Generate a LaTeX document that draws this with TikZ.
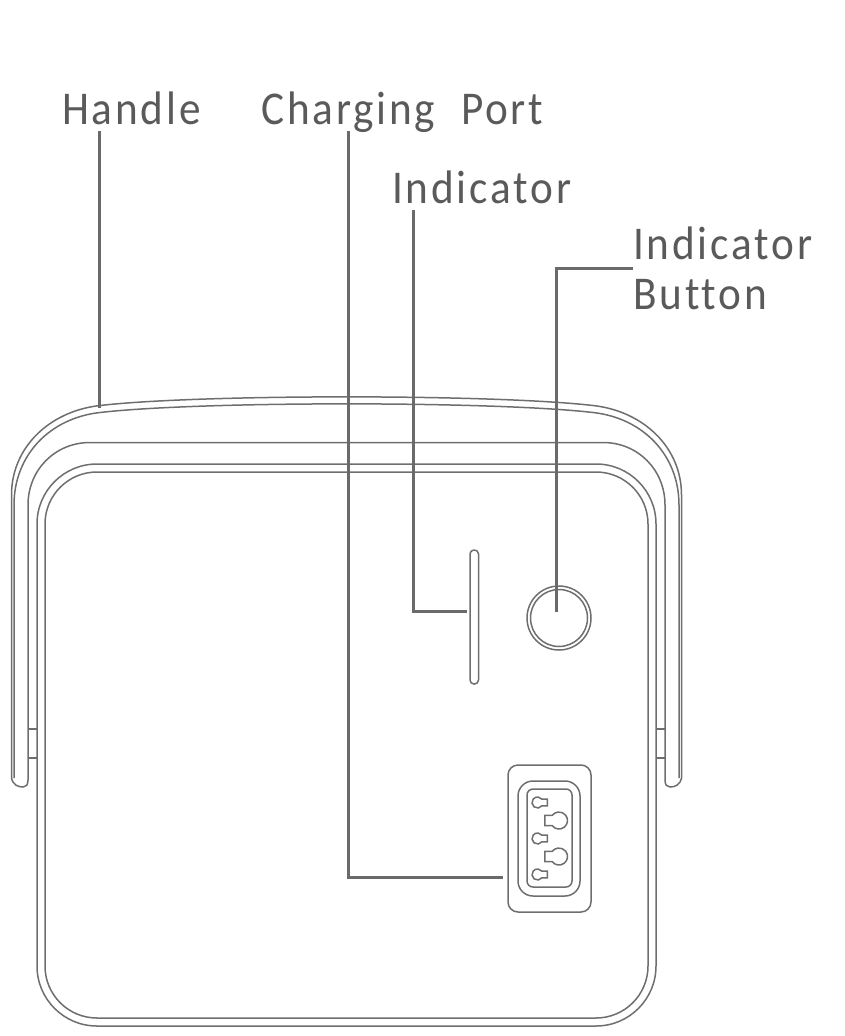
\documentclass[tikz,border=0pt]{standalone}
\usepackage{fontspec}
\setmainfont[LetterSpace=6,FakeStretch=0.92,Ligatures=NoCommon,WordSpace=2.05]{Carlito}
\definecolor{linea}{HTML}{6E6E6E}
\definecolor{guia}{HTML}{6A6A6A}
\definecolor{texto}{HTML}{5A5A5A}
\tikzset{
	contorno/.style={draw=linea, line width=1.5pt},
	guide/.style={draw=guia, line width=3pt},
	etiqueta/.style={inner sep=0pt, anchor=base west, text=texto, font=\fontsize{47}{50}\selectfont, text depth=7pt},
}
\newcommand{\clavija}[4]{% centro, radio, largo, lado
	\draw[contorno, shift={(#1)}, xscale=#4] (-38:#2) -- ++(#3,0) -- ++(0,{2*#2*sin(38)}) -- ++(-#3,0) arc (38:322:#2) -- cycle;
}
\begin{document}
\begin{tikzpicture}[x=1pt,y=-1pt]
			\useasboundingbox (0,0) rectangle (844,1036);
			
			% Etiquetas
			\node[etiqueta] (handlelabel) at (62,124) {Handle};
			\node[etiqueta] (portlabel) at (261,124) {Charging Port};
			\node[etiqueta] (indicatorlabel) at (392,203) {Indicator};
			\node[inner sep=0pt, anchor=west, text=texto, align=left, font=\fontsize{47}{50}\selectfont] (buttonlabel) at (633,268) {Indicator\\Button};
			
			% Cuerpo
			\draw[contorno, rounded corners=60pt] (37,464) rectangle (656,1026);
			\draw[contorno, rounded corners=52pt] (45,472) rectangle (648,1018);
			
			% Asa
			\draw[contorno] (11.5,778) -- (11.5,495) .. controls (11.5,447) and (50,411) .. (100,405.5) .. controls (200,394) and (493,394) .. (593,405.5) .. controls (643,411) and (681.5,447) .. (681.5,495) -- (681.5,778);
			\draw[contorno] (14,778) -- (14,505) .. controls (14,455) and (50,418) .. (100,412.5) .. controls (200,401) and (493,401) .. (593,412.5) .. controls (643,418) and (679,455) .. (679,505) -- (679,778);
			\draw[contorno] (28,780) -- (28,505) .. controls (28,470) and (55,442.5) .. (90,442.5) -- (603,442.5) .. controls (638,442.5) and (665,470) .. (665,505) -- (665,780);
			
			% Extremos del asa
			\draw[contorno] (11.5,778) .. controls (13,785) and (18,787) .. (23,787) .. controls (26,787) and (28,785) .. (28,780);
			\draw[contorno] (681.5,778) .. controls (680,785) and (675,787) .. (670,787) .. controls (667,787) and (665,785) .. (665,780);
			
			% Uniones
			\draw[contorno] (28,729) -- (37,729);
			\draw[contorno] (28,758) -- (37,758);
			\draw[contorno] (656,729) -- (665,729);
			\draw[contorno] (656,758) -- (665,758);
			
			% Indicador
			\draw[contorno, rounded corners=4pt] (470,550) rectangle (478.5,684);
			\node[circle, contorno, minimum size=64pt, inner sep=0pt] (boton) at (559,618) {};
			\node[circle, contorno, minimum size=57pt, inner sep=0pt] (botonin) at (559,618) {};
			
			% Puerto de carga
			\draw[contorno, rounded corners=10pt] (508,765) rectangle (591,912);
			\draw[contorno, rounded corners=15pt] (518,781) rectangle (580,896);
			\draw[contorno, rounded corners=6pt] (527,789) rectangle (572,887);
			\clavija{537.5,802.5}{5.5}{5.5}{1}
			\clavija{537.5,838.5}{5.5}{5.5}{1}
			\clavija{537.5,874.5}{5.5}{5.5}{1}
			\clavija{559,820.5}{8.5}{7.5}{-1}
			\clavija{559,856.5}{8.5}{7.5}{-1}
			
			% Guias
			\coordinate (handletip) at (99,408);
			\coordinate (portcorner) at (348,877);
			\coordinate (porttip) at (503,877);
			\coordinate (indicatorcorner) at (413,611);
			\coordinate (indicatortip) at (467,611);
			\coordinate (buttoncorner) at (556,268);
			\coordinate (buttontip) at (556,612);
			\draw[guide] (handlelabel.south -| handletip) -- (handletip);
			\draw[guide] (portlabel.south -| portcorner) -- (portcorner) -- (porttip);
			\draw[guide] (indicatorlabel.south -| indicatorcorner) -- (indicatorcorner) -- (indicatortip);
			\draw[guide] (buttonlabel.west) -- (buttoncorner) -- (buttontip);
			
		\end{tikzpicture}
\end{document}
